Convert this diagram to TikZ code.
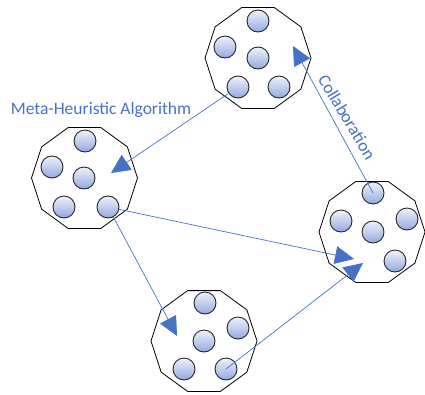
\documentclass[tikz,border=0pt]{standalone}
\usepackage{fontspec}
\setmainfont{Carlito}
\usetikzlibrary{shapes.geometric,arrows.meta}
\definecolor{offblue}{HTML}{4472C4}
\definecolor{ballTop}{HTML}{EEF2FA}
\definecolor{ballBot}{HTML}{93A9DE}
\tikzset{
  deca/.style={draw=black,line width=0.8pt,regular polygon,regular polygon sides=10,minimum size=106pt,inner sep=0pt},
  ball/.style={circle,draw=black!85,line width=0.9pt,minimum size=22pt,inner sep=0pt,top color=ballTop,bottom color=ballBot},
  conn/.style={draw=offblue,line width=0.7pt,-{Triangle[length=19pt,width=18pt]}},
  lbl/.style={text=offblue,font=\fontsize{17.5}{20}\selectfont,inner sep=0pt}
}
\begin{document}
\begin{tikzpicture}[x=1pt,y=-1pt]
\useasboundingbox (0,0) rectangle (425,394);
% decagons
\node[deca] (dT) at (258,58) {};
\node[deca] (dL) at (84.5,178) {};
\node[deca] (dR) at (372,232) {};
\node[deca] (dB) at (204,341) {};
% top group
\node[ball] (t1) at (258,21) {};
\node[ball] (t2) at (225,47) {};
\node[ball] (t3) at (258,58) {};
\node[ball] (t4) at (238,87) {};
\node[ball] (t5) at (279,87) {};
% left group
\node[ball] (l1) at (85,141) {};
\node[ball] (l2) at (52,167) {};
\node[ball] (l3) at (84,178) {};
\node[ball] (l4) at (64,207) {};
\node[ball] (l5) at (108,207) {};
% right group
\node[ball] (r1) at (373,193) {};
\node[ball] (r2) at (341,221) {};
\node[ball] (r3) at (373,232) {};
\node[ball] (r4) at (407,219) {};
\node[ball] (r5) at (395,261) {};
% bottom group
\node[ball] (b1) at (205,303) {};
\node[ball] (b2) at (238,328) {};
\node[ball] (b3) at (204,341) {};
\node[ball] (b4) at (184,369) {};
\node[ball] (b5) at (226,369) {};
% arrow tips
\coordinate (tA) at (111,173);
\coordinate (tB) at (354,259);
\coordinate (tC) at (177,336);
\coordinate (tD) at (363,263);
\coordinate (tE) at (293,46);
% connectors
\draw[conn] (t4) -- (tA);
\draw[conn] (l5) -- (tB);
\draw[conn] (l5) -- (tC);
\draw[conn] (b5.center) -- (tD);
\draw[conn] (r1.center) -- (tE);
% labels
\node[lbl] (meta) at (101,110) {Meta-Heuristic Algorithm};
\node[lbl,rotate=-59] (collab) at (347,117) {Collaboration};
\end{tikzpicture}
\end{document}
